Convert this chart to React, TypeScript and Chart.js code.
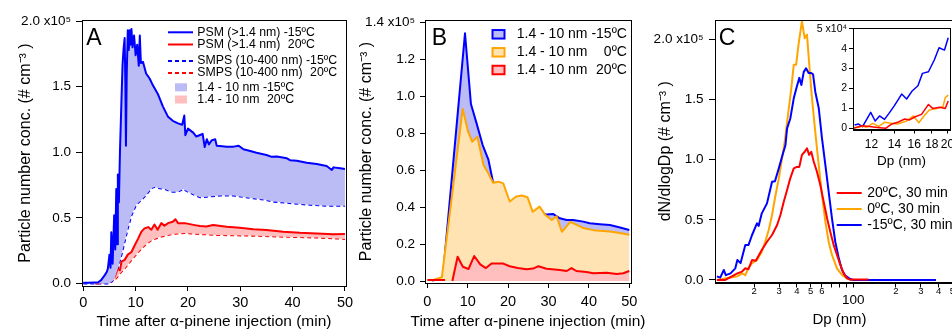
import React, { useEffect, useRef } from 'react';
import { Chart, registerables } from 'chart.js';

Chart.register(...registerables);

const FONT = "'Liberation Sans', Arial, Helvetica, sans-serif";
Chart.defaults.font.family = FONT;
Chart.defaults.color = '#000';

// ---------------- Panel A data (time in min, conc. in 1e5 cm^-3) ----------------
const psmCold: [number, number][] = [
  [0, 0.006], [1, 0.006], [2, 0.007], [2.8, 0.008], [3.4, 0.026], [4.1, 0.064], [4.5, 0.09], [4.7, 0.115],
  [5.0, 0.22], [5.2, 0.12], [5.35, 0.39], [5.6, 0.15], [5.9, 0.52], [6.1, 0.26], [6.3, 0.72], [6.45, 0.3],
  [6.6, 0.83], [6.8, 0.62], [7.0, 1.0], [7.3, 1.41], [7.5, 1.67], [7.7, 1.79], [7.9, 1.87], [8.05, 1.5],
  [8.15, 1.05], [8.3, 1.6], [8.5, 1.93], [8.7, 1.78], [8.85, 1.93], [9.0, 1.82], [9.2, 1.94], [9.4, 1.8],
  [9.7, 1.89], [10.0, 1.74], [10.3, 1.82], [10.6, 1.66], [10.8, 1.89], [11.0, 1.68], [11.4, 1.69], [12.0, 1.6],
  [12.7, 1.56], [13.3, 1.51], [14.3, 1.44], [15.2, 1.35], [16.2, 1.27], [17.1, 1.24], [18.1, 1.22], [18.9, 1.21],
  [19.3, 1.28], [19.5, 1.13], [20.0, 1.18], [21.0, 1.15], [21.6, 1.12], [22.2, 1.13], [22.8, 1.14], [23.2, 1.04],
  [23.6, 1.1], [24.0, 1.06], [24.5, 1.09], [25.2, 1.1], [25.5, 1.05], [26.1, 1.048], [27.4, 1.043], [28.7, 1.043],
  [29.7, 1.05], [30.6, 1.023], [31.9, 1.01], [33.1, 0.997], [35.0, 0.979], [36.0, 0.965], [37.0, 0.967], [38.9, 0.954],
  [39.5, 0.94], [40.8, 0.936], [42.7, 0.921], [44.6, 0.91], [46.5, 0.896], [47.5, 0.865], [47.8, 0.885], [49.1, 0.878],
  [50.0, 0.873],
];
const psmWarm: [number, number][] = [
  [2.3, 0], [2.8, 0.002], [3.8, 0.013], [5, 0.026], [6, 0.05], [6.6, 0.115], [7, 0.1], [7.3, 0.166], [7.9, 0.18],
  [8.5, 0.22], [9.2, 0.24], [9.8, 0.29], [10.5, 0.344], [11.1, 0.395], [11.7, 0.42], [12.4, 0.43], [13, 0.41],
  [13.6, 0.45], [14.2, 0.41], [14.9, 0.46], [15.5, 0.44], [16.2, 0.46], [17.1, 0.47], [17.6, 0.49], [18.1, 0.46],
  [19.4, 0.46], [21.3, 0.445], [22.3, 0.438], [23.5, 0.435], [24.8, 0.446], [27.4, 0.433], [29.9, 0.425],
  [32.5, 0.413], [35, 0.408], [38.2, 0.395], [41.4, 0.387], [44.6, 0.382], [47.8, 0.375], [50, 0.377],
];
const smpsCold: [number, number][] = [
  [0, 0], [5, 0], [6, 0.04], [6.6, 0.115], [7.3, 0.22], [7.9, 0.32], [8.5, 0.42], [9.2, 0.52], [10.1, 0.6],
  [11.1, 0.637], [12, 0.675], [13, 0.726], [13.6, 0.736], [14.6, 0.726], [15.6, 0.72], [16.8, 0.7], [18.1, 0.7],
  [19.1, 0.72], [20, 0.7], [21.3, 0.675], [22.3, 0.657], [23.2, 0.66], [24.5, 0.665], [26.1, 0.67], [28.7, 0.67],
  [30.6, 0.66], [32.5, 0.649], [34.4, 0.641], [36.3, 0.624], [38.9, 0.615], [41.4, 0.606], [44, 0.598],
  [46.5, 0.593], [50, 0.593],
];
const smpsWarm: [number, number][] = [
  [2.3, 0], [5.35, 0.013], [6.3, 0.04], [7, 0.077], [7.9, 0.115], [9.2, 0.18], [10.5, 0.24], [11.7, 0.29],
  [13, 0.33], [14.3, 0.35], [15.6, 0.365], [17.5, 0.38], [19.4, 0.385], [22.3, 0.377], [25.5, 0.37],
  [31.9, 0.365], [38.2, 0.357], [44.6, 0.35], [47.8, 0.344], [50, 0.34],
];
const legendLabelsA = [
  'PSM (>1.4 nm) -15ºC', 'PSM (>1.4 nm) 20ºC', 'SMPS (10-400 nm) -15ºC', 'SMPS (10-400 nm) 20ºC',
  '1.4 - 10 nm -15ºC', '1.4 - 10 nm 20ºC',
];

// ---------------- Panel B data (1.4 - 10 nm, 1e5 cm^-3) ----------------
const nanoCold: [number, number][] = [
  [1.1, 0.003], [3.8, 0.012], [9.33, 1.339], [10.8, 0.957], [12.2, 0.852], [13.7, 0.735], [15.1, 0.658],
  [16.3, 0.531], [17.6, 0.531], [19.2, 0.438], [20.6, 0.398], [22, 0.423], [23.4, 0.398], [24.8, 0.387],
  [26.2, 0.369], [27.9, 0.365], [29.5, 0.359], [31.2, 0.362], [32.8, 0.339], [34.5, 0.33], [36.1, 0.33],
  [38.6, 0.321], [40.2, 0.312], [42.7, 0.307], [45.2, 0.303], [47.7, 0.289], [50, 0.276],
];
const nanoZero: [number, number][] = [
  [1.1, 0.003], [3.6, 0.02], [8.76, 0.93], [10.1, 0.807], [11.1, 0.753], [12.4, 0.78], [13.9, 0.627],
  [15.1, 0.582], [16.3, 0.531], [17.6, 0.537], [18.8, 0.528], [20.4, 0.43], [22, 0.457], [23.4, 0.462],
  [24.8, 0.453], [26.1, 0.374], [27.8, 0.402], [29.1, 0.36], [30.8, 0.33], [32, 0.35], [33.3, 0.266],
  [35.4, 0.32], [37.8, 0.295], [38.6, 0.286], [41.1, 0.275], [42.7, 0.272], [45.2, 0.268], [47.7, 0.259],
  [50, 0.25],
];
const nanoWarm: [number, number | null][] = [
  [0, 0.005], [4.4, 0.005], [5.3, null], [6.2, 0], [7.5, 0.131], [8.8, 0.077], [10.2, 0.065], [11.6, 0.135],
  [13.1, 0.09], [14.5, 0.07], [15.9, 0.095], [18.8, 0.094], [20.4, 0.08], [22.4, 0.07], [24.6, 0.063],
  [26.2, 0.067], [27.5, 0.08], [29.5, 0.066], [32.8, 0.059], [34.5, 0.054], [35.7, 0.07], [36.9, 0.054],
  [39.4, 0.049], [41.1, 0.042], [44.4, 0.045], [46.9, 0.038], [48.5, 0.042], [50, 0.054],
];
const legendLabelsB = ['1.4 - 10 nm -15ºC', '1.4 - 10 nm 0ºC', '1.4 - 10 nm 20ºC'];

// ---------------- Panel C data (Dp in nm, dN/dlogDp in 1e5 cm^-3) ----------------
const sizeWarm: [number, number][] = [
  [10.9, 0], [12.5, 0], [13.9, 0.03], [15.2, 0.055], [16.4, 0.07], [17.3, 0.097], [18.2, 0.09], [19.3, 0.166],
  [20.5, 0.16], [22.6, 0.25], [24.6, 0.318], [26.7, 0.374], [29, 0.457], [30.6, 0.54], [32.3, 0.65],
  [34.1, 0.748], [35.9, 0.845], [38, 0.928], [40, 0.94], [41.6, 0.94], [43.4, 1.04], [45.4, 1.066],
  [47.1, 1.095], [48.8, 1.04], [50.5, 1.066], [52.6, 0.983], [55.4, 0.9], [58.5, 0.79], [61.8, 0.65],
  [65.3, 0.513], [68.8, 0.4], [72.7, 0.29], [76.7, 0.208], [81, 0.125], [85.5, 0.055], [90.3, 0.014],
  [95, 0.003], [100, 0.005], [128, 0.005],
];
const sizeZero: [number, number][] = [
  [10.9, 0], [13.6, 0.02], [15.2, 0.03], [16.4, 0.055], [17.3, 0.04], [18.2, 0.1], [19.3, 0.14], [20.9, 0.166],
  [22.6, 0.235], [23.9, 0.318], [25.3, 0.415], [26.7, 0.54], [28.1, 0.69], [29.8, 0.845], [31.4, 1.01],
  [32.8, 1.15], [34.6, 1.37], [36.5, 1.59], [38, 1.79], [39.5, 1.79], [41.2, 1.97], [43.4, 2.15], [45.4, 2.01],
  [47.1, 2.04], [48.9, 1.79], [51.1, 1.51], [53.9, 1.23], [57, 0.956], [60.1, 0.707], [63.5, 0.485],
  [67, 0.318], [70.7, 0.208], [76.7, 0.097], [83.2, 0.042], [90.3, 0.014], [97.9, 0],
];
const sizeCold: [number, number][] = [
  [10.9, 0.03], [11.5, 0.02], [12.2, 0.083], [12.6, 0.04], [13.6, 0.055], [14.7, 0.097], [15.2, 0.166],
  [16, 0.14], [17.3, 0.29], [18.2, 0.29], [19.3, 0.374], [20.9, 0.471], [21.5, 0.45], [22.6, 0.554],
  [24.6, 0.637], [26.7, 0.817], [28, 0.82], [29.8, 0.928], [31.4, 1.025], [33.2, 1.12], [34.1, 1.26],
  [35.9, 1.34], [38, 1.51], [40, 1.61], [41.6, 1.68], [43, 1.62], [44.7, 1.73], [46.4, 1.76], [48.4, 1.72],
  [50.5, 1.72], [52, 1.71], [53.9, 1.565], [57, 1.43], [60.1, 1.18], [63.5, 0.956], [67, 0.734], [70.7, 0.513],
  [74.6, 0.318], [79, 0.18], [83.2, 0.083], [87.8, 0.036], [95, 0.008], [100, 0], [383, 0],
];
const legendLabelsC = ['20ºC, 30 min', '0ºC, 30 min', '-15ºC, 30 min'];

// ---------------- Inset data (Dp in nm, dN/dlogDp in 1e4 cm^-3) ----------------
const insetCold: [number, number][] = [
  [10.71, 0.166], [11, 0.216], [11.3, 0.08], [11.94, 0.8], [12.3, 0.367], [12.67, 0.62], [13.1, 0.45],
  [13.5, 0.75], [14, 1.14], [14.7, 1.72], [15.2, 1.47], [15.8, 1.89], [16.4, 2.14], [16.9, 2.76], [17.6, 2.84],
  [18.3, 3.43], [18.9, 4.05], [19.6, 3.93], [20.1, 4.55],
];
const insetWarm: [number, number][] = [
  [10.6, 0], [11.3, 0.13], [12, 0.08], [12.7, 0.03], [13.2, 0], [13.7, 0.2], [14.3, 0.3], [15, 0.47],
  [15.5, 0.42], [16.1, 0.58], [16.8, 0.7], [17.6, 1.2], [18.1, 1.0], [19, 1.06], [19.7, 1.0], [20.1, 1.37],
];
const insetZero: [number, number][] = [
  [10.6, 0], [11.3, 0.1], [11.6, 0.05], [12.1, 0.25], [12.6, 0.1], [13.1, 0.3], [13.7, 0.25], [14.3, 0.22],
  [15.2, 0.37], [15.9, 0.62], [16.5, 0.28], [17.1, 0.63], [17.7, 0.92], [18.6, 1.0], [19.4, 1.08],
  [19.7, 1.54], [20.1, 1.67],
];

// ---------------- Ticks ----------------
const timeTicks = [0, 10, 20, 30, 40, 50];
const concTicksA = [0, 0.5, 1, 1.5, 2];
const concTicksB = [0, 0.2, 0.4, 0.6, 0.8, 1.0, 1.2, 1.4];
const dNTicksC = [0, 0.5, 1, 1.5, 2];
const sizeTicksC = [20, 30, 40, 50, 60, 70, 80, 90, 100, 200, 300, 400, 500, 600];
const sizeTickLabelsC: (string | string[])[] = ['2', '3', '4', '5', '6', '', '', '', ['', '100'], '2', '3', '4', '5', ''];
const insetXTicks = [12, 14, 16, 18, 20];
const insetYTicks = [0, 1, 2, 3, 4, 5];

const TIME_TITLE = 'Time after α-pinene injection (min)';
const CONC_TITLE = 'Particle number conc. (# cm⁻³ )';

// ---------------- Styles ----------------
const BLUE = '#0000ff';
const RED = '#ff0000';
const ORANGE = '#ffa500';
const LAV = '#bbbbf6';
const PINK = '#ffbfbf';
const PEACH = '#ffe3b3';
const DASH = [4, 3];

const pts = (a: [number, number | null][]) => a.map(([x, y]) => ({ x, y }));

const framePlugin = {
  id: 'frame',
  afterDraw(chart: any, _a: any, opts: any) {
    const { ctx, chartArea: a } = chart;
    ctx.save();
    ctx.strokeStyle = '#000';
    ctx.lineWidth = 1;
    const l = Math.round(a.left) + 0.5, t = Math.round(a.top) + 0.5;
    const r = Math.round(a.right) + 0.5, b = Math.round(a.bottom) + 0.5;
    ctx.strokeRect(l, t, r - l, b - t);
    ctx.fillStyle = '#000';
    if (opts && opts.letter) {
      ctx.font = `23px ${FONT}`;
      ctx.textBaseline = 'middle';
      ctx.textAlign = 'left';
      ctx.fillText(opts.letter, a.left + opts.dx, a.top + opts.dy);
    }
    if (opts && opts.xTitle) {
      // wide axis title that must not be squeezed into the plot width
      ctx.font = `${opts.xTitleSize}px ${FONT}`;
      ctx.textBaseline = 'middle';
      ctx.textAlign = 'center';
      ctx.fillText(opts.xTitle, (a.left + a.right) / 2, opts.xTitleY);
    }
    ctx.restore();
  },
};

const legendPlugin = {
  id: 'panelLegend',
  afterDraw(chart: any, _a: any, opts: any) {
    if (!opts || !opts.items) return;
    const ctx = chart.ctx;
    ctx.save();
    ctx.font = `${opts.size}px ${FONT}`;
    ctx.textBaseline = 'middle';
    for (const it of opts.items) {
      if (it.kind === 'line') {
        ctx.strokeStyle = it.color;
        ctx.lineWidth = it.width || 2;
        ctx.setLineDash(it.dash || []);
        ctx.beginPath();
        ctx.moveTo(it.x0, it.y);
        ctx.lineTo(it.x1, it.y);
        ctx.stroke();
        ctx.setLineDash([]);
      } else {
        ctx.fillStyle = it.fill;
        ctx.fillRect(it.x0, it.y - it.h / 2, it.x1 - it.x0, it.h);
        if (it.color) {
          ctx.strokeStyle = it.color;
          ctx.lineWidth = 2;
          ctx.strokeRect(it.x0, it.y - it.h / 2, it.x1 - it.x0, it.h);
        }
      }
      ctx.fillStyle = '#000';
      const label: string = it.text;
      if (opts.alignTemp) {
        const k = label.lastIndexOf(' ');
        const base = label.slice(0, k);
        const temp = label.slice(k + 1);
        ctx.textAlign = 'left';
        ctx.fillText(base, opts.textX, it.y);
        const right = opts.textX + ctx.measureText(base + ' ' + opts.refTemp).width;
        ctx.textAlign = 'right';
        ctx.fillText(temp, right, it.y);
      } else {
        ctx.textAlign = 'left';
        ctx.fillText(label, opts.textX, it.y);
      }
    }
    ctx.restore();
  },
};

function axis(o: any) {
  return {
    type: o.type || 'linear',
    min: o.min,
    max: o.max,
    afterBuildTicks: (s: any) => {
      s.ticks = o.ticks.map((v: number) => ({ value: v }));
    },
    afterFit: (s: any) => {
      if (o.width !== undefined) s.width = o.width;
      if (o.height !== undefined) s.height = o.height;
    },
    grid: {
      drawOnChartArea: false,
      drawTicks: true,
      tickLength: o.tickLength ?? 5,
      color: '#000',
      tickColor: '#000',
      lineWidth: 1,
    },
    border: { display: true, color: '#000', width: 1 },
    ticks: {
      color: '#000',
      font: o.font,
      padding: o.padding,
      maxRotation: 0,
      minRotation: 0,
      autoSkip: false,
      callback: o.callback,
    },
    title: o.title
      ? { display: true, text: o.title, color: '#000', font: o.titleFont, padding: o.titlePadding }
      : { display: false },
  };
}

const lineDs = (label: string, data: any, color: string, extra: any = {}) => ({
  label,
  data,
  borderColor: color,
  borderWidth: 2,
  pointRadius: 0,
  tension: 0,
  fill: false,
  spanGaps: false,
  borderJoinStyle: 'round',
  ...extra,
});

const base = {
  responsive: false,
  animation: false,
  devicePixelRatio: 1,
  events: [],
};

function configA(): any {
  return {
    type: 'line',
    data: {
      datasets: [
        lineDs(legendLabelsA[0], pts(psmCold), BLUE, { fill: 2, backgroundColor: LAV }),
        lineDs(legendLabelsA[1], pts(psmWarm), RED, { fill: 3, backgroundColor: PINK }),
        lineDs(legendLabelsA[2], pts(smpsCold), BLUE, { borderDash: DASH, borderJoinStyle: 'miter' }),
        lineDs(legendLabelsA[3], pts(smpsWarm), RED, { borderDash: DASH, borderJoinStyle: 'miter' }),
      ],
    },
    options: {
      ...base,
      layout: { padding: { left: 0, top: 20, right: 12, bottom: 0 } },
      scales: {
        x: axis({
          min: -0.25, max: 50.2, ticks: timeTicks, height: 43, tickLength: 5,
          font: { size: 14.5 }, padding: 3.5, callback: (v: number) => String(v),
          title: TIME_TITLE, titleFont: { size: 15.5, lineHeight: 1 }, titlePadding: { top: 0, bottom: 0 },
        }),
        y: axis({
          min: -0.019, max: 2.008, ticks: concTicksA, width: 82, tickLength: 6,
          font: { size: 13.5 }, padding: 5,
          callback: (v: number) => (v === 2 ? '2.0 x10⁵' : v.toFixed(1)),
          title: CONC_TITLE, titleFont: { size: 16, lineHeight: 1.2 }, titlePadding: { top: 16.4, bottom: 0 },
        }),
      },
      plugins: {
        legend: { display: false },
        tooltip: { enabled: false },
        frame: { letter: 'A', dx: 4.3, dy: 18.3 },
        panelLegend: {
          size: 12.3, textX: 197.3, alignTemp: true, refTemp: '-15ºC',
          items: [
            { kind: 'line', color: BLUE, x0: 168, x1: 193, y: 32.3, text: legendLabelsA[0] },
            { kind: 'line', color: RED, x0: 168, x1: 193, y: 44.5, text: legendLabelsA[1] },
            { kind: 'line', color: BLUE, dash: DASH, x0: 168, x1: 193, y: 61, text: legendLabelsA[2] },
            { kind: 'line', color: RED, dash: DASH, x0: 168, x1: 193, y: 73, text: legendLabelsA[3] },
            { kind: 'box', fill: LAV, x0: 175, x1: 187, h: 8, y: 87.3, text: legendLabelsA[4] },
            { kind: 'box', fill: PINK, x0: 175, x1: 187, h: 8, y: 99.5, text: legendLabelsA[5] },
          ],
        },
      },
    },
    plugins: [framePlugin, legendPlugin],
  };
}

const B_LEFT = 355;
function configB(): any {
  return {
    type: 'line',
    data: {
      datasets: [
        lineDs(legendLabelsB[2], pts(nanoWarm), RED, { fill: 'origin', backgroundColor: PINK }),
        lineDs(legendLabelsB[1], pts(nanoZero), ORANGE, { fill: 'origin', backgroundColor: PEACH }),
        lineDs(legendLabelsB[0], pts(nanoCold), BLUE, { fill: 'origin', backgroundColor: LAV }),
      ],
    },
    options: {
      ...base,
      layout: { padding: { left: 0, top: 20, right: 29, bottom: 0 } },
      scales: {
        x: axis({
          min: -0.57, max: 50.42, ticks: timeTicks, height: 46, tickLength: 5,
          font: { size: 14.5 }, padding: 5, callback: (v: number) => String(v),
        }),
        y: axis({
          min: -0.0108, max: 1.411, ticks: concTicksB, width: 70, tickLength: 5,
          font: { size: 13.5 }, padding: 5,
          callback: (v: number) => (Math.abs(v - 1.4) < 1e-9 ? '1.4 x10⁵' : v.toFixed(1)),
          title: CONC_TITLE, titleFont: { size: 16, lineHeight: 1.2 }, titlePadding: { top: 2.4, bottom: 0 },
        }),
      },
      plugins: {
        legend: { display: false },
        tooltip: { enabled: false },
        frame: { letter: 'B', dx: 6.7, dy: 18.3, xTitle: TIME_TITLE, xTitleSize: 15.5, xTitleY: 321.7 },
        panelLegend: {
          size: 14, textX: 516.7 - B_LEFT, alignTemp: true, refTemp: '-15ºC',
          items: [
            { kind: 'box', fill: LAV, color: BLUE, x0: 492.5 - B_LEFT, x1: 504.5 - B_LEFT, h: 8.5, y: 34.3, text: legendLabelsB[0] },
            { kind: 'box', fill: PEACH, color: ORANGE, x0: 492.5 - B_LEFT, x1: 504.5 - B_LEFT, h: 8.5, y: 52.3, text: legendLabelsB[1] },
            { kind: 'box', fill: PINK, color: RED, x0: 492.5 - B_LEFT, x1: 504.5 - B_LEFT, h: 8.5, y: 70, text: legendLabelsB[2] },
          ],
        },
      },
    },
    plugins: [framePlugin, legendPlugin],
  };
}

const C_LEFT = 640;
function configC(): any {
  return {
    type: 'line',
    data: {
      datasets: [
        lineDs(legendLabelsC[0], pts(sizeWarm), RED),
        lineDs(legendLabelsC[2], pts(sizeCold), BLUE),
        lineDs(legendLabelsC[1], pts(sizeZero), ORANGE),
      ],
    },
    options: {
      ...base,
      layout: { padding: { left: 0, top: 20, right: 16, bottom: 0 } },
      scales: {
        x: axis({
          type: 'logarithmic', min: 10.57, max: 604, ticks: sizeTicksC, height: 46.5, tickLength: 5,
          font: (c: any) =>
            c.tick && c.tick.value === 100 ? { size: 13.5, lineHeight: 0.75 } : { size: 9.5, lineHeight: 1.2 },
          padding: -2,
          callback: (_v: number, i: number) => sizeTickLabelsC[i],
          title: 'Dp (nm)', titleFont: { size: 15, lineHeight: 1 }, titlePadding: { top: 0, bottom: 1.5 },
        }),
        y: axis({
          min: -0.0208, max: 2.161, ticks: dNTicksC, width: 75, tickLength: 6,
          font: { size: 13.5 }, padding: 5.5,
          callback: (v: number) => (v === 2 ? '2.0 x10⁵' : v.toFixed(1)),
          title: 'dN/dlogDp (# cm⁻³ )', titleFont: { size: 16, lineHeight: 1.2 }, titlePadding: { top: 16.4, bottom: 0 },
        }),
      },
      plugins: {
        legend: { display: false },
        tooltip: { enabled: false },
        frame: { letter: 'C', dx: 3.7, dy: 18.3 },
        panelLegend: {
          size: 14, textX: 867.3 - C_LEFT, alignTemp: false,
          items: [
            { kind: 'line', color: RED, x0: 836.7 - C_LEFT, x1: 861.7 - C_LEFT, y: 193, text: legendLabelsC[0] },
            { kind: 'line', color: ORANGE, x0: 836.7 - C_LEFT, x1: 861.7 - C_LEFT, y: 209, text: legendLabelsC[1] },
            { kind: 'line', color: BLUE, x0: 836.7 - C_LEFT, x1: 861.7 - C_LEFT, y: 225, text: legendLabelsC[2] },
          ],
        },
      },
    },
    plugins: [framePlugin, legendPlugin],
  };
}

function configInset(): any {
  return {
    type: 'line',
    data: {
      datasets: [
        lineDs(legendLabelsC[0], pts(insetWarm), RED, { borderWidth: 1.5 }),
        lineDs(legendLabelsC[1], pts(insetZero), ORANGE, { borderWidth: 1.5 }),
        lineDs(legendLabelsC[2], pts(insetCold), BLUE, { borderWidth: 1.5 }),
      ],
    },
    options: {
      ...base,
      layout: { padding: { left: 0, top: 13, right: 10, bottom: 0 } },
      scales: {
        x: axis({
          type: 'logarithmic', min: 10.6, max: 20.34, ticks: insetXTicks, height: 40.5, tickLength: 4,
          font: { size: 12 }, padding: 4.3, callback: (v: number) => String(v),
          title: 'Dp (nm)', titleFont: { size: 13.5, lineHeight: 1 }, titlePadding: { top: 0, bottom: 1.5 },
        }),
        y: axis({
          min: -0.06, max: 5.04, ticks: insetYTicks, width: 53, tickLength: 4,
          font: { size: 10.5 }, padding: 2,
          callback: (v: number) => (v === 5 ? '5 x10⁴' : String(v)),
        }),
      },
      plugins: {
        legend: { display: false },
        tooltip: { enabled: false },
        frame: {},
      },
    },
    plugins: [framePlugin],
  };
}

export default function App() {
  const refA = useRef<HTMLCanvasElement>(null);
  const refB = useRef<HTMLCanvasElement>(null);
  const refC = useRef<HTMLCanvasElement>(null);
  const refI = useRef<HTMLCanvasElement>(null);

  useEffect(() => {
    const charts = [
      new Chart(refA.current as HTMLCanvasElement, configA()),
      new Chart(refB.current as HTMLCanvasElement, configB()),
      new Chart(refC.current as HTMLCanvasElement, configC()),
      new Chart(refI.current as HTMLCanvasElement, configInset()),
    ];
    return () => charts.forEach((c) => c.destroy());
  }, []);

  const cs = (left: number, top: number): React.CSSProperties => ({ position: 'absolute', left, top, display: 'block' });

  return (
    <div style={{ position: 'absolute', left: 0, top: 0, width: 952, height: 329, overflow: 'hidden', background: '#fff' }}>
      <canvas ref={refA} width={358} height={329} style={cs(0, 0)} />
      <canvas ref={refB} width={305} height={329} style={cs(B_LEFT, 0)} />
      <canvas ref={refC} width={340} height={329} style={cs(C_LEFT, 0)} />
      <canvas ref={refI} width={160} height={155} style={cs(800, 15)} />
    </div>
  );
}
